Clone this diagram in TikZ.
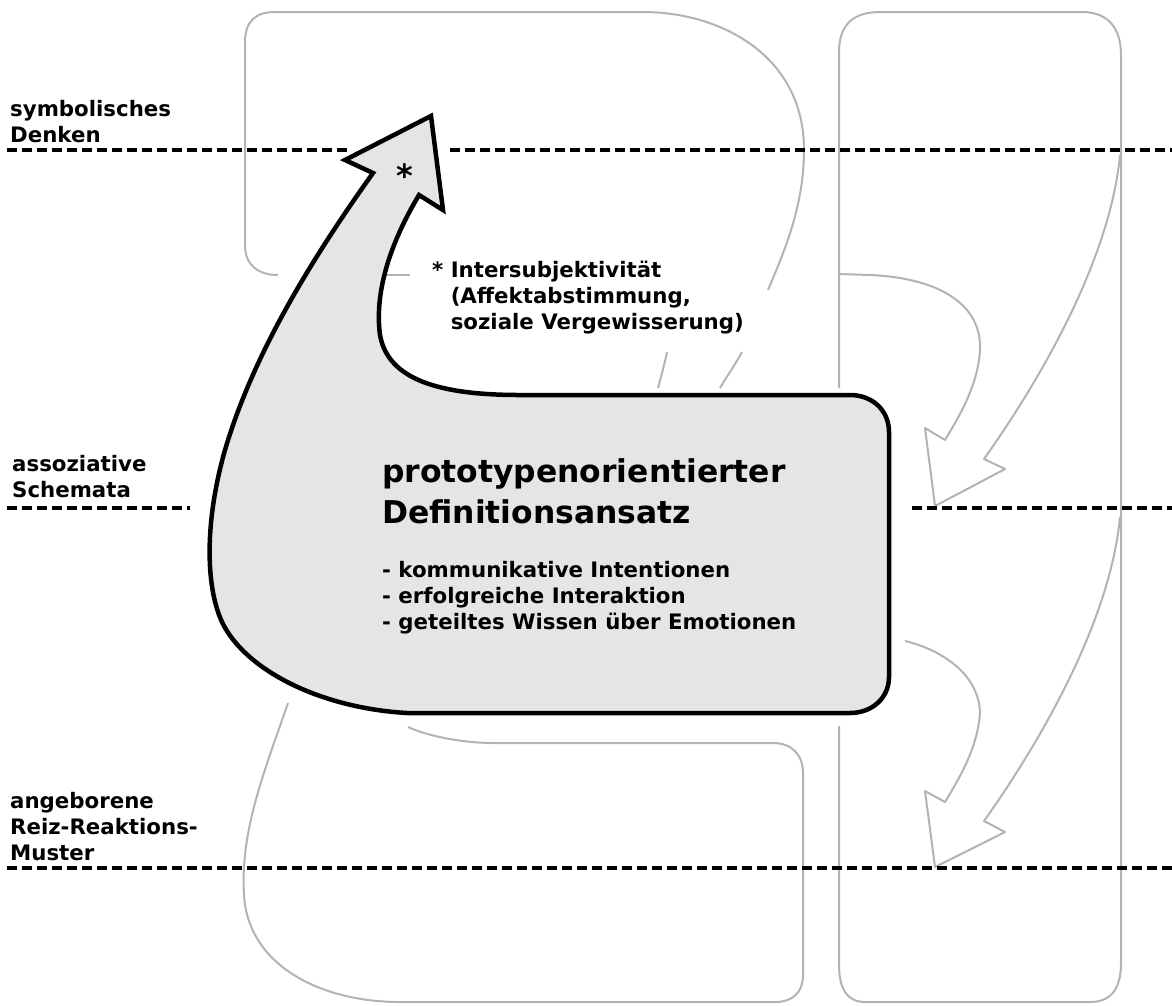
\documentclass[tikz,border=0pt]{standalone}
\usepackage{fontspec}
\setmainfont{DejaVu Sans}
\definecolor{ghostgray}{HTML}{B3B3B3}
\definecolor{shapefill}{HTML}{E5E5E5}
\newcommand{\stacked}[1]{\begin{tabular}[t]{@{}l@{}}#1\end{tabular}}
\begin{document}
\begin{tikzpicture}[x=1pt,y=-1pt,
  ghost/.style={draw=ghostgray, line width=2pt, line join=round},
  level/.style={draw=black, line width=4pt, dash pattern=on 10pt off 5pt},
  mainshape/.style={draw=black, fill=shapefill, line width=4.5pt},
  small/.style={anchor=base west, inner sep=0pt,
    font=\bfseries\fontsize{21.3}{26}\selectfont},
  big/.style={anchor=base west, inner sep=0pt,
    font=\bfseries\fontsize{31.4}{41.5}\selectfont}]
\useasboundingbox (0,0) rectangle (1172,1005);

% ---- grey background outlines ----
% upper left loop
\draw[ghost] (410,275) -- (378,275);
\draw[ghost] (278,275) .. controls (258,275) and (245,265) .. (245,245)
  -- (245,42) .. controls (245,22) and (255,12) .. (275,12) -- (643,12)
  .. controls (720,12) and (804,55) .. (804,150)
  .. controls (804,205) and (785,250) .. (768,290);
\draw[ghost] (742,352) .. controls (735,365) and (727,376) .. (720,388);
\draw[ghost] (667,352) .. controls (664,366) and (661,377) .. (658,388);

% right column
\draw[ghost] (839,388) -- (839,52) .. controls (839,25) and (853,12) .. (880,12)
  -- (1082,12) .. controls (1108,12) and (1121,28) .. (1121,55)
  -- (1121,963) .. controls (1121,990) and (1110,1002) .. (1090,1002)
  -- (865,1002) .. controls (848,1002) and (839,990) .. (839,965) -- (839,726);

% upper bent arrow in the right column
\draw[ghost] (839,274) -- (870,275)
  .. controls (940,278) and (982,305) .. (980,350)
  .. controls (978,385) and (960,415) .. (945,440)
  -- (925,428) -- (935,506) -- (1005,469) -- (984,459)
  .. controls (1040,380) and (1110,260) .. (1120,155);

% lower bent arrow in the right column
\draw[ghost] (905,641)
  .. controls (935,648) and (978,670) .. (980,712)
  .. controls (978,747) and (960,777) .. (945,802)
  -- (925,791) -- (935,867) -- (1005,832) -- (984,821)
  .. controls (1040,742) and (1110,622) .. (1120,517);

% lower left loop
\draw[ghost] (288,703) .. controls (265,770) and (240,830) .. (244,895)
  .. controls (248,965) and (320,1002) .. (400,1002)
  -- (775,1002) .. controls (793,1002) and (803,992) .. (803,975)
  -- (803,773) .. controls (803,755) and (792,743) .. (773,743)
  -- (493,743) .. controls (465,743) and (430,737) .. (408,727);

% ---- central box with the curved arrow ----
\draw[mainshape] (431,116) -- (443,210) -- (419,195)
  .. controls (392,240) and (374,290) .. (380,335)
  .. controls (388,380) and (440,395) .. (520,395)
  -- (850,395) .. controls (872,395) and (889,410) .. (889,432)
  -- (889,677) .. controls (889,698) and (872,713) .. (850,713)
  -- (407,713)
  .. controls (320,708) and (245,670) .. (222,622)
  .. controls (205,585) and (205,520) .. (225,450)
  .. controls (250,365) and (300,275) .. (373,173)
  -- (345,160) -- cycle;

% ---- level lines ----
\draw[level] (7,150) -- (348,150);
\draw[level] (450,150) -- (1172,150);
\draw[level] (7,508) -- (190,508);
\draw[level] (912,508) -- (1172,508);
\draw[level] (7,868) -- (1172,868);

% ---- level labels ----
\node[small] (lvlsym) at (10,116) {\stacked{symbolisches\\Denken}};
\node[small] (lvlass) at (12,471) {\stacked{assoziative\\Schemata}};
\node[small] (lvlinn) at (10,808) {\stacked{angeborene\\Reiz-Reaktions-\\Muster}};

% ---- texts ----
\node[anchor=center, inner sep=0pt, font=\bfseries\fontsize{32}{36}\selectfont]
  (star) at (405,176) {*};
\node[small] (intersub) at (432,277)
  {\begin{tabular}[t]{@{}l@{ }l@{}}*&Intersubjektivität\\&(Affektabstimmung,\\&soziale Vergewisserung)\end{tabular}};
\node[big] (title) at (382,482) {\stacked{prototypenorientierter\\Definitionsansatz}};
\node[small] (items) at (382,577)
  {\stacked{- kommunikative Intentionen\\- erfolgreiche Interaktion\\- geteiltes Wissen über Emotionen}};
\end{tikzpicture}
\end{document}
